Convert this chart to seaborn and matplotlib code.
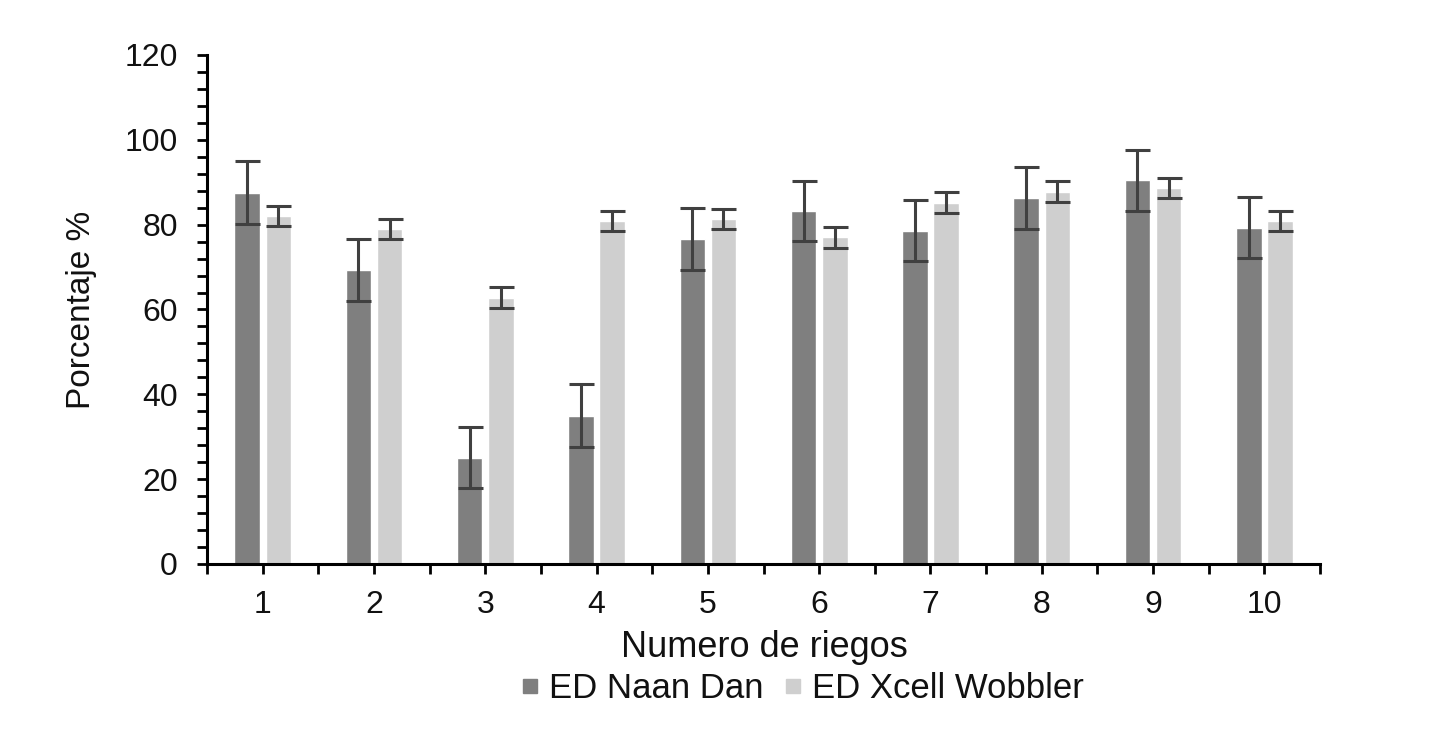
import numpy as np
import pandas as pd
import matplotlib
matplotlib.use("Agg")
import matplotlib.pyplot as plt
import seaborn as sns
from matplotlib.ticker import MultipleLocator, FixedLocator
from matplotlib.lines import Line2D

# ---- data ----
riegos = ["1", "2", "3", "4", "5", "6", "7", "8", "9", "10"]
series_names = ["ED Naan Dan", "ED Xcell Wobbler"]
naan_dan = [87.5, 69.3, 25.0, 35.0, 76.7, 83.3, 78.6, 86.3, 90.5, 79.3]
naan_dan_err = [7.4, 7.2, 7.2, 7.4, 7.3, 7.1, 7.1, 7.4, 7.2, 7.1]
xcell = [82.0, 78.9, 62.8, 80.8, 81.3, 77.0, 85.2, 87.8, 88.7, 80.9]
xcell_err = [2.4, 2.4, 2.4, 2.3, 2.4, 2.4, 2.4, 2.4, 2.4, 2.3]

colors = ["#7f7f7f", "#cfcfcf"]

df = pd.DataFrame({
    "riego": riegos * 2,
    "serie": [series_names[0]] * len(riegos) + [series_names[1]] * len(riegos),
    "valor": naan_dan + xcell,
})

sns.set_theme(style="white")
plt.rcParams["font.family"] = ["Liberation Sans", "DejaVu Sans"]

fig = plt.figure(figsize=(14.34, 7.31), dpi=100)
ax = fig.add_axes([0.1444, 0.2285, 0.7761, 0.6963])

sns.barplot(data=df, x="riego", y="valor", hue="serie", order=riegos,
            hue_order=series_names, palette=colors, width=0.56, gap=0.18,
            errorbar=None, ax=ax, saturation=1, legend=False)

# error bars from bar geometry
errs = naan_dan_err + xcell_err
for patch, e in zip(ax.patches[:len(errs)], errs):
    xc = patch.get_x() + patch.get_width() / 2
    ax.errorbar(xc, patch.get_height(), yerr=e, fmt="none", ecolor="#404040",
                elinewidth=2.2, capsize=9, capthick=2.2, zorder=5)

ax.set_ylim(0, 120)
ax.set_xlim(-0.5, len(riegos) - 0.5)
ax.yaxis.set_major_locator(MultipleLocator(20))
ax.yaxis.set_minor_locator(MultipleLocator(4))
ax.xaxis.set_minor_locator(FixedLocator(np.arange(-0.5, len(riegos), 1.0)))

for s in ["top", "right"]:
    ax.spines[s].set_visible(False)
for s in ["left", "bottom"]:
    ax.spines[s].set_color("black")
    ax.spines[s].set_linewidth(2.2)

ax.tick_params(axis="y", which="both", direction="out", length=7, width=2,
               color="black", left=True, labelsize=23, pad=14, labelcolor="#111111")
ax.tick_params(axis="x", which="both", direction="out", length=7, width=2,
               color="black", bottom=True, labelsize=23, pad=12, labelcolor="#111111")

ax.set_xlabel("Numero de riegos", fontsize=26, color="#111111")
ax.set_ylabel("Porcentaje %", fontsize=24, color="#111111")
ax.xaxis.set_label_coords(0.501, -0.165)
ax.yaxis.set_label_coords(-0.113, 0.5)
ax.xaxis.label.set_va("center")
ax.yaxis.label.set_va("center")
ax.grid(False)

handles = [Line2D([], [], marker="s", linestyle="none", markersize=10,
                  markerfacecolor=c, markeredgecolor=c) for c in colors]
leg = ax.legend(handles, series_names, loc="center", bbox_to_anchor=(0.535, -0.244),
                ncol=2, frameon=False, fontsize=25, handlelength=0.5,
                handletextpad=0.3, columnspacing=0.6, borderaxespad=0)
for t in leg.get_texts():
    t.set_color("#111111")

fig.savefig("out.png", dpi=100, facecolor="white")
